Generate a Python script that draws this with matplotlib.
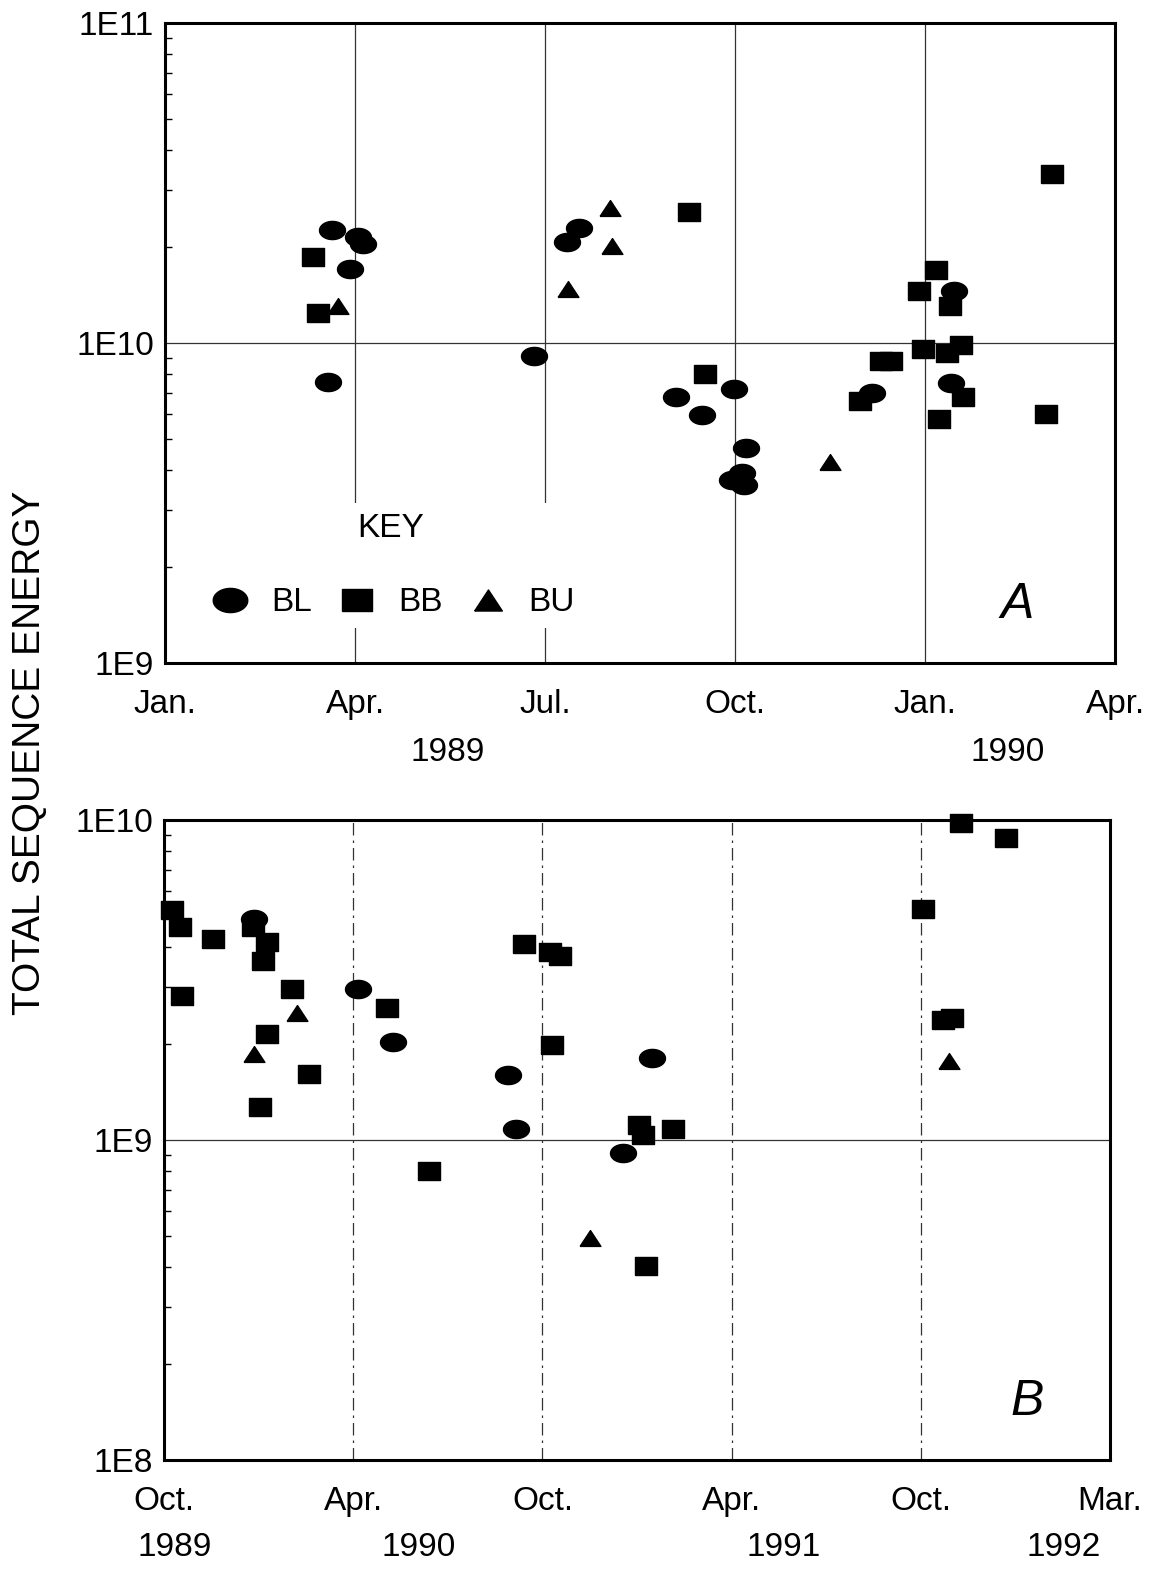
import numpy as np
import matplotlib
matplotlib.use("Agg")
import matplotlib.pyplot as plt
from matplotlib.ticker import LogLocator, NullFormatter, FixedLocator, FixedFormatter

plt.rcParams['font.family'] = ['Liberation Sans', 'DejaVu Sans']

# ---------------- Panel A (x = months since Jan 1989) ----------------
a_bl_month = [2.63, 3.05, 3.13, 2.92, 2.57, 5.83, 6.35, 6.54, 8.07, 8.48, 8.98,
              9.17, 9.11, 8.95, 9.14, 11.16, 12.46, 12.41]
a_bl_energy = [2.25e10, 2.14e10, 2.04e10, 1.70e10, 7.55e9, 9.1e9, 2.07e10, 2.29e10,
               6.78e9, 5.96e9, 7.18e9, 4.70e9, 3.93e9, 3.73e9, 3.60e9, 6.98e9,
               1.45e10, 7.5e9]
a_bb_month = [2.34, 2.42, 8.28, 8.53, 10.97, 11.31, 11.46, 11.91, 12.17, 12.40,
              11.97, 12.35, 12.57, 12.60, 12.22, 13.91, 14.01]
a_bb_energy = [1.86e10, 1.24e10, 2.57e10, 8.0e9, 6.59e9, 8.79e9, 8.79e9, 1.45e10,
               1.69e10, 1.31e10, 9.58e9, 9.3e9, 9.86e9, 6.78e9, 5.79e9, 6.0e9, 3.37e10]
a_bu_month = [2.73, 6.36, 7.03, 7.06, 10.50]
a_bu_energy = [1.31e10, 1.48e10, 2.64e10, 2.01e10, 4.25e9]

a_xticks = [0, 3, 6, 9, 12, 15]
a_xticklabels = ["Jan.", "Apr.", "Jul.", "Oct.", "Jan.", "Apr."]
a_yticks = [1e9, 1e10, 1e11]
a_yticklabels = ["1E9", "1E10", "1E11"]
a_years = ["1989", "1990"]
a_year_pos = [4.47, 13.3]

# ---------------- Panel B (x = months since Oct 1989) ----------------
b_bl_month = [2.86, 6.16, 7.27, 10.92, 11.17, 15.49, 14.57]
b_bl_energy = [4.91e9, 2.96e9, 2.02e9, 1.60e9, 1.08e9, 1.80e9, 9.1e8]
b_bb_month = [0.25, 0.51, 1.56, 0.57, 2.81, 3.26, 3.13, 4.06, 3.27, 4.60, 3.05, 7.08,
              8.41, 11.41, 12.25, 12.56, 12.30, 15.07, 15.20, 16.13, 15.30, 24.06,
              24.70, 24.98, 25.26, 26.70]
b_bb_energy = [5.23e9, 4.64e9, 4.25e9, 2.82e9, 4.64e9, 4.16e9, 3.62e9, 2.96e9, 2.14e9,
               1.61e9, 1.27e9, 2.59e9, 8.0e8, 4.10e9, 3.87e9, 3.76e9, 1.98e9, 1.11e9,
               1.04e9, 1.08e9, 4.04e8, 5.27e9, 2.37e9, 2.41e9, 9.79e9, 8.79e9]
b_bu_month = [4.21, 2.86, 13.52, 24.89]
b_bu_energy = [2.49e9, 1.85e9, 4.94e8, 1.77e9]

b_xticks = [0, 6, 12, 18, 24, 30]
b_xticklabels = ["Oct.", "Apr.", "Oct.", "Apr.", "Oct.", "Mar."]
b_yticks = [1e8, 1e9, 1e10]
b_yticklabels = ["1E8", "1E9", "1E10"]
b_years = ["1989", "1990", "1991", "1992"]
b_year_pos = [0.35, 8.06, 19.65, 28.54]

series_names = ["BL", "BB", "BU"]

# ---------------- marker shapes ----------------
t = np.linspace(0, 2 * np.pi, 60)
ellipse = list(zip(np.cos(t), 0.70 * np.sin(t)))
square = [(-1, -0.78), (1, -0.78), (1, 0.78), (-1, 0.78), (-1, -0.78)]
triangle = [(-1, -0.76), (1, -0.76), (0, 0.76), (-1, -0.76)]
markers = [ellipse, square, triangle]
msizes = [18.7, 15.8, 15.0]

fig = plt.figure(figsize=(11.5, 15.69), dpi=100)
axA = fig.add_axes([0.1435, 0.5774, 0.9696 - 0.1435, 0.9853 - 0.5774])
axB = fig.add_axes([0.1426, 0.0695, 0.9652 - 0.1426, 0.4774 - 0.0695])

FS = 24


def style_axis(ax, xlim, ylim, xticks, xlabels, yticks, ylabels, grid_ls):
    ax.set_yscale('log')
    ax.set_xlim(*xlim)
    ax.set_ylim(*ylim)
    ax.xaxis.set_major_locator(FixedLocator(xticks))
    ax.xaxis.set_major_formatter(FixedFormatter(xlabels))
    ax.yaxis.set_major_locator(FixedLocator(yticks))
    ax.yaxis.set_major_formatter(FixedFormatter(ylabels))
    ax.yaxis.set_minor_locator(LogLocator(base=10, subs=np.arange(2, 10)))
    ax.yaxis.set_minor_formatter(NullFormatter())
    ax.tick_params(axis='x', which='major', length=0, pad=19, labelsize=FS)
    ax.tick_params(axis='y', which='major', length=0, pad=8, labelsize=FS)
    ax.tick_params(axis='y', which='minor', direction='in', length=5, width=1,
                   left=True, right=False)
    for s in ax.spines.values():
        s.set_linewidth(2.2)
        s.set_color('black')
    ax.set_axisbelow(True)
    ax.grid(True, axis='y', which='major', color='#333333', linewidth=0.9)
    ax.grid(True, axis='x', which='major', color='#333333', linewidth=0.9,
            linestyle=grid_ls)


style_axis(axA, (0, 15), (1e9, 1e11), a_xticks, a_xticklabels, a_yticks,
           a_yticklabels, '-')
style_axis(axB, (0, 30), (1e8, 1e10), b_xticks, b_xticklabels, b_yticks,
           b_yticklabels, (0, (10, 4, 2, 4)))

a_data = [(a_bl_month, a_bl_energy), (a_bb_month, a_bb_energy), (a_bu_month, a_bu_energy)]
b_data = [(b_bl_month, b_bl_energy), (b_bb_month, b_bb_energy), (b_bu_month, b_bu_energy)]

handles = []
for (mx, my), mk, ms, name in zip(a_data, markers, msizes, series_names):
    h, = axA.plot(mx, my, linestyle='none', marker=mk, markersize=ms,
                  color='black', label=name, clip_on=False, zorder=3)
    handles.append(h)
for (mx, my), mk, ms, name in zip(b_data, markers, msizes, series_names):
    axB.plot(mx, my, linestyle='none', marker=mk, markersize=ms,
             color='black', label=name, clip_on=False, zorder=3)

leg = axA.legend(handles=handles, ncol=3, loc='center',
                 bbox_to_anchor=(0.237, 0.152), title="KEY",
                 fontsize=FS, title_fontsize=FS, markerscale=1.33,
                 handlelength=1.5, handletextpad=0.48, columnspacing=0.6,
                 labelspacing=1.3, borderpad=0.3, frameon=True)
leg.get_frame().set_facecolor('white')
leg.get_frame().set_edgecolor('none')
leg.get_frame().set_alpha(1)

# panel letters
axA.text(0.897, 0.09, "A", transform=axA.transAxes, fontsize=36,
         fontstyle='italic', ha='center', va='center')
axB.text(0.912, 0.09, "B", transform=axB.transAxes, fontsize=36,
         fontstyle='italic', ha='center', va='center')

# year labels
for yr, xp in zip(a_years, a_year_pos):
    axA.text(xp, -0.139, yr, transform=axA.get_xaxis_transform(), fontsize=FS,
             ha='center', va='center')
for yr, xp in zip(b_years, b_year_pos):
    axB.text(xp, -0.1375, yr, transform=axB.get_xaxis_transform(), fontsize=FS,
             ha='center', va='center')

fig.text(0.026, 0.52, "TOTAL SEQUENCE ENERGY", rotation=90, fontsize=28,
         ha='center', va='center')

fig.savefig("out.png", dpi=100, facecolor='white')
